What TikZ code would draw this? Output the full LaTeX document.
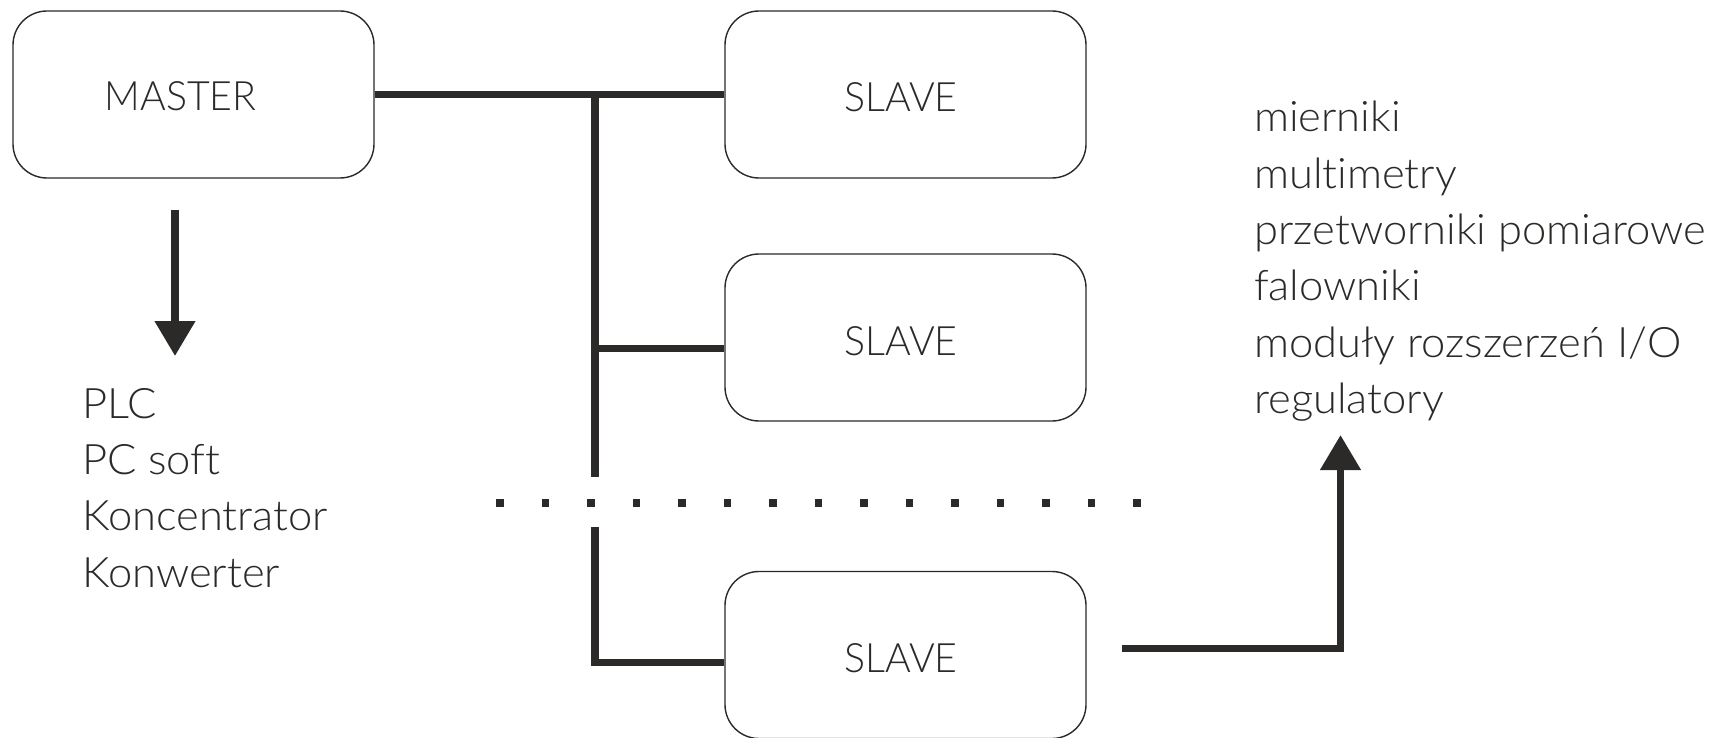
\documentclass[tikz,border=0pt]{standalone}
\usepackage{fontspec}
\setmainfont{Lato}[UprightFont=* Light, Ligatures=NoCommon]
\newfontfamily\listfont{Lato}[UprightFont=* Light, Ligatures=NoCommon, FakeStretch=1.035]
\newfontfamily\unitfont{Lato}[UprightFont=* Light, Ligatures=NoCommon, FakeStretch=0.97]
\usetikzlibrary{arrows.meta}
\definecolor{ink}{HTML}{2B2A28}
\begin{document}
\begin{tikzpicture}[x=1pt,y=-1pt,
  unitbox/.style={draw=ink, line width=1.4pt, rounded corners=34pt,
    minimum width=361pt, minimum height=167pt, inner sep=0pt},
  boxlabel/.style={anchor=base, inner sep=0pt, text=ink,
    font=\unitfont\fontsize{40.5}{48}\selectfont},
  listline/.style={anchor=base west, inner sep=0pt, text=ink,
    font=\listfont\fontsize{42}{50}\selectfont},
  bus/.style={draw=ink, line width=7.5pt, line cap=butt, line join=miter},
  tip/.style={-{Triangle[length=35pt,width=39pt]}}
]
\useasboundingbox (0,0) rectangle (1715,738);
\fill[white] (0,0) rectangle (1715,738);

% master and slave units
\node[unitbox] (master) at (193.5,94.5) {};
\node[unitbox] (s1) at (905.5,94.5) {};
\node[unitbox] (s2) at (905.5,337.5) {};
\node[unitbox] (s3) at (905.5,655) {};

\node[boxlabel] (lmaster) at (180.5,111) {MASTER};
\node[boxlabel] (ls1) at (901,112) {SLAVE};
\node[boxlabel] (ls2) at (901,355.5) {SLAVE};
\node[boxlabel] (ls3) at (901,672) {SLAVE};

% bus lines
\coordinate (j1) at (595,94.5);
\coordinate (busend) at (595,477);
\coordinate (j2) at (595,348.5);
\coordinate (busres) at (595,527);
\coordinate (j3) at (595,662.5);
\draw[bus] (master.east) -- (s1.west);
\draw[bus] (j1) -- (busend);
\draw[bus] (j2) -- (j2 -| s2.west);
\draw[bus] (busres) -- (j3) -- (j3 -| s3.west);

% continuation dots
\foreach \i in {0,...,14}
  \fill[ink] ({500+45.5*\i-3.85},499.15) rectangle +(7.7,7.7);

% master side devices
\coordinate (mout) at (175,210);
\coordinate (mtip) at (175,356);
\draw[bus,tip] (mout) -- (mtip);
\node[listline] (plc) at (82,418) {PLC};
\node[listline] (pc) at (82,474.3) {PC soft};
\node[listline] (konc) at (82,530.6) {Koncentrator};
\node[listline] (konw) at (82,587) {Konwerter};

% slave side devices
\coordinate (sout) at (1122,648.5);
\coordinate (stip) at (1340.5,435);
\draw[bus,tip] (sout) -| (stip);
\node[listline] (r1) at (1254,132) {mierniki};
\node[listline] (r2) at (1254,188.3) {multimetry};
\node[listline] (r3) at (1254,244.6) {przetworniki pomiarowe};
\node[listline] (r4) at (1254,300.9) {falowniki};
\node[listline] (r5) at (1254,357.2) {moduły rozszerzeń I/O};
\node[listline] (r6) at (1254,413.5) {regulatory};
\end{tikzpicture}
\end{document}
